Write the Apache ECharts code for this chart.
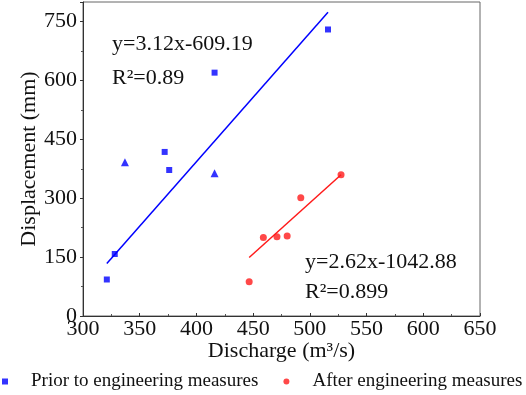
<!DOCTYPE html>
<html>
<head>
<meta charset="utf-8">
<script src="https://cdn.jsdelivr.net/npm/echarts@6/dist/echarts.min.js"></script>
<style>
  html, body { margin: 0; padding: 0; background: #fff; }
  #chart { width: 526px; height: 395px; }
</style>
</head>
<body>
<div id="chart"></div>
<script>
// data
var priorSquares = [[321, 93], [328, 158], [372, 418], [376, 372], [416, 620], [516, 730]];
var priorTriangles = [[337, 392], [416, 364]];
var afterPoints = [[446.5, 87], [459, 200], [471, 202], [480, 204], [492, 301], [527.5, 360]];
var priorFit = [[321, 134], [516, 774]];
var afterFit = [[446.5, 149], [527.5, 360]];

var serif = "'Liberation Serif', 'Times New Roman', serif";
var myChart = echarts.init(document.getElementById('chart'));

var priorData = priorSquares.map(function (p) { return p; })
  .concat(priorTriangles.map(function (p) {
    return { value: p, symbol: 'triangle', symbolSize: 8 };
  }));

var option = {
  animation: false,
  grid: {
    left: 83, right: 46, top: 2, bottom: 79,
    show: true, borderColor: '#666', borderWidth: 1
  },
  legend: {
    left: 2, top: 372, width: 524, padding: 0,
    orient: 'horizontal',
    itemWidth: 6, itemHeight: 6, itemGap: 25,
    textStyle: { fontFamily: serif, fontSize: 19, color: '#111', padding: [0, 0, 0, 18] },
    data: [
      { name: 'Prior to engineering measures', icon: 'rect' },
      { name: 'After engineering measures', icon: 'circle' }
    ]
  },
  xAxis: {
    type: 'value', min: 300, max: 650, interval: 50,
    name: 'Discharge (m³/s)', nameLocation: 'middle', nameGap: 24, nameMoveOverlap: false,
    nameTextStyle: { fontFamily: serif, fontSize: 22, color: '#111' },
    axisLine: { lineStyle: { color: '#333' } },
    axisTick: { inside: true, length: 3, lineStyle: { color: '#333' } },
    minorTick: { show: true, splitNumber: 2, length: 2, lineStyle: { color: '#555' } },
    axisLabel: { fontFamily: serif, fontSize: 22, color: '#111', margin: 2 },
    splitLine: { show: false }
  },
  yAxis: {
    type: 'value', min: 0, max: 800, interval: 150,
    name: 'Displacement (mm)', nameLocation: 'middle', nameGap: 43, nameMoveOverlap: false,
    nameTextStyle: { fontFamily: serif, fontSize: 22, color: '#111' },
    axisLine: { show: true, lineStyle: { color: '#333' } },
    axisTick: { show: true, length: 3, lineStyle: { color: '#333' } },
    minorTick: { show: true, splitNumber: 2, length: 2, lineStyle: { color: '#555' } },
    axisLabel: { fontFamily: serif, fontSize: 22, color: '#111', margin: 6, showMaxLabel: false },
    splitLine: { show: false }
  },
  series: [
    {
      name: 'Prior to engineering measures', type: 'scatter',
      symbol: 'rect', symbolSize: 6,
      itemStyle: { color: '#0000ff' },
      data: priorData
    },
    {
      name: 'After engineering measures', type: 'scatter',
      symbol: 'circle', symbolSize: 7,
      itemStyle: { color: '#ff1a1a' },
      data: afterPoints
    },
    {
      type: 'line', data: priorFit, showSymbol: false, symbol: 'none',
      lineStyle: { color: '#0000ff', width: 1.5 }
    },
    {
      type: 'line', data: afterFit, showSymbol: false, symbol: 'none',
      lineStyle: { color: '#ff1a1a', width: 1.5 }
    }
  ],
  graphic: [
    { type: 'text', left: 112, top: 33, style: { text: 'y=3.12x-609.19', font: '22px ' + serif, fill: '#111' } },
    { type: 'text', left: 112, top: 67, style: { text: 'R²=0.89', font: '22px ' + serif, fill: '#111' } },
    { type: 'text', left: 305, top: 251, style: { text: 'y=2.62x-1042.88', font: '22px ' + serif, fill: '#111' } },
    { type: 'text', left: 305, top: 281, style: { text: 'R²=0.899', font: '22px ' + serif, fill: '#111' } }
  ]
};

myChart.setOption(option);
</script>
</body>
</html>
